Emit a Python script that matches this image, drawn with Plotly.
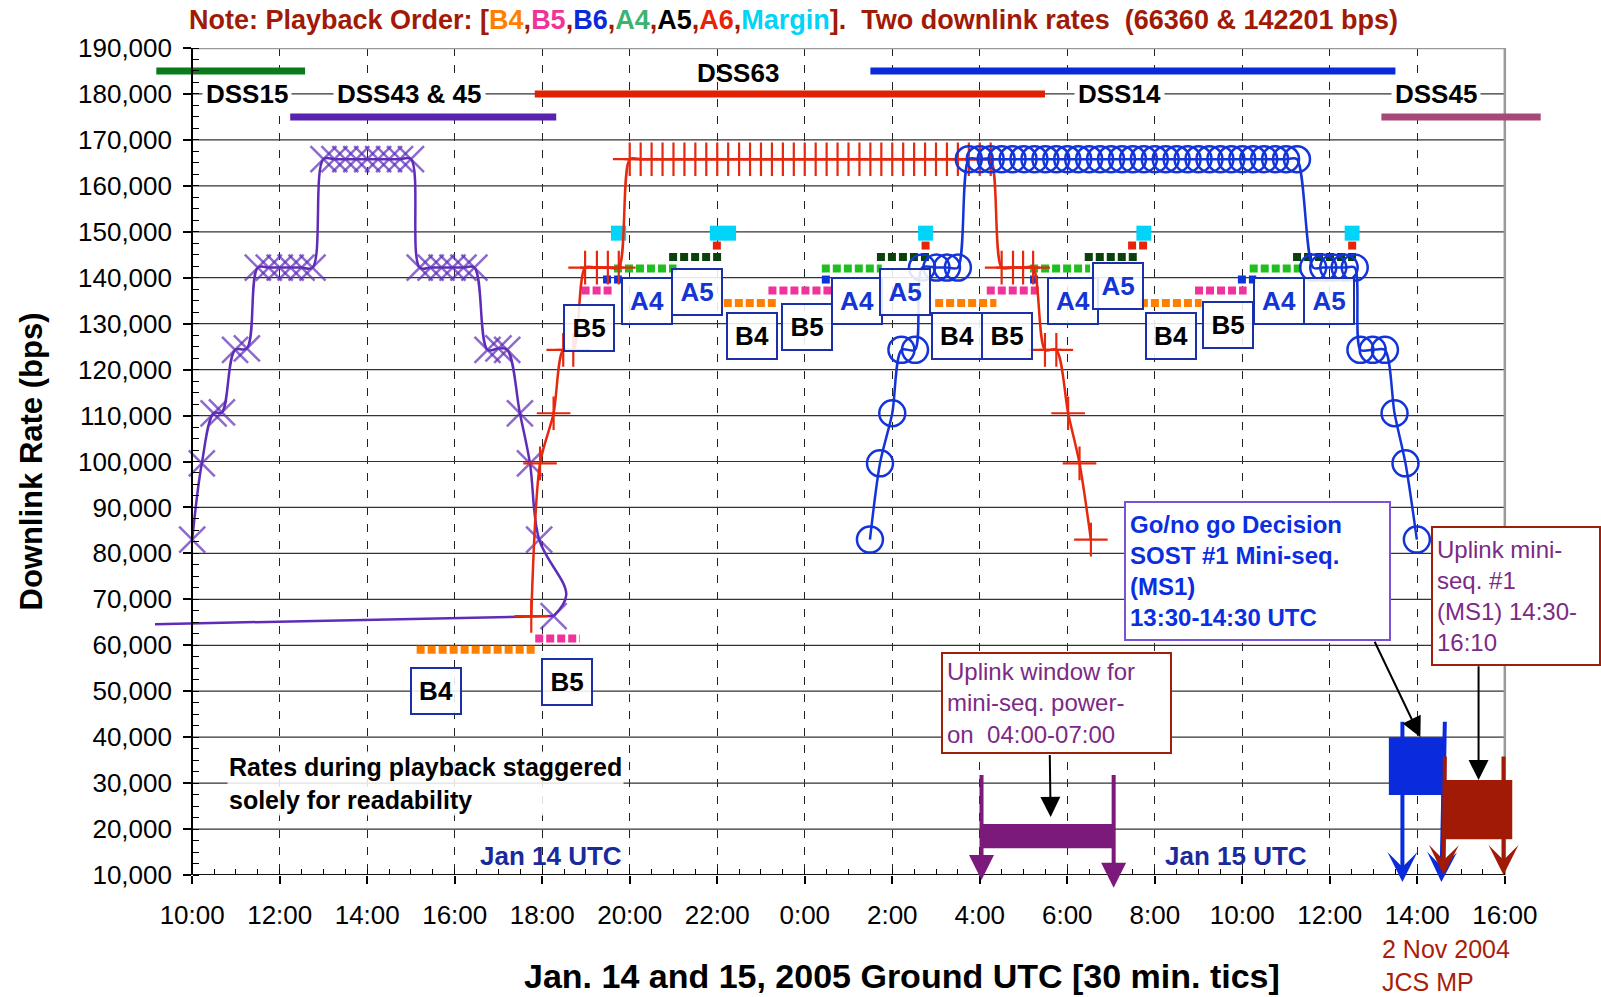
import plotly.graph_objects as go

# ---------------- axes ----------------
X_RANGE = [-0.85, 30.85]          # hours after 10:00 UTC Jan 14
Y_RANGE = [10000, 190000]
tick_hours = [0, 2, 4, 6, 8, 10, 12, 14, 16, 18, 20, 22, 24, 26, 28, 30]
tick_labels = ["10:00", "12:00", "14:00", "16:00", "18:00", "20:00", "22:00", "0:00",
               "2:00", "4:00", "6:00", "8:00", "10:00", "12:00", "14:00", "16:00"]
minor_tick_hours = [i * 0.5 for i in range(61)]
rate_ticks = list(range(10000, 190001, 10000))
grid_rates = rate_ticks[1:-1]

# ---------------- downlink rate series ----------------
dss43_hours = [0.0, 0.22, 0.49, 0.68, 0.98, 1.25, 1.5, 1.75, 2.0, 2.25, 2.5, 2.75,
               3.0, 3.25, 3.5, 3.75, 4.0, 4.25, 4.5, 4.75, 5.0,
               5.2, 5.45, 5.7, 5.95, 6.2, 6.45, 6.75, 7.0, 7.2, 7.49, 7.72, 7.93, 8.55, 8.26]
dss43_rates = [83000, 99600, 110500, 110700, 124300, 124600,
               142201, 142201, 142201, 142201, 142201, 142201,
               165800, 165800, 165800, 165800, 165800, 165800, 165800, 165800, 165800,
               142201, 142201, 142201, 142201, 142201, 142201,
               124300, 124600, 124300, 110500, 99600, 83000, 71000, 66360]
dss43_marker_shown = [1] * 33 + [0, 1]
# return line of the DSS43/45 series back to the start of the chart
dss43_tail_hours = [8.26, -0.85]
dss43_tail_rates = [66360, 64600]

dss63_hours = [7.75, 7.95, 8.26, 8.48, 8.71, 8.98, 9.25, 9.5, 9.75,
               10.0, 10.25, 10.5, 10.75, 11.0, 11.25, 11.5, 11.75, 12.0, 12.25, 12.5, 12.75,
               13.0, 13.25, 13.5, 13.75, 14.0, 14.25, 14.5, 14.75, 15.0, 15.25, 15.5, 15.75,
               16.0, 16.25, 16.5, 16.75, 17.0, 17.25, 17.5, 17.75, 18.0, 18.25,
               18.5, 18.76, 18.99, 19.22, 19.49, 19.75, 20.02, 20.28, 20.54]
dss63_rates = [66360, 99600, 110500, 124300, 124300, 142201, 142201, 142201, 142201,
               165800, 165800, 165800, 165800, 165800, 165800, 165800, 165800, 165800, 165800, 165800, 165800,
               165800, 165800, 165800, 165800, 165800, 165800, 165800, 165800, 165800, 165800, 165800, 165800,
               165800, 165800, 165800, 165800, 165800, 165800, 165800, 165800, 165800, 165800,
               142201, 142201, 142201, 142201, 124300, 124300, 110500, 99600, 83000]

dss14_hours = [15.49, 15.72, 16.0, 16.21, 16.52, 16.68, 17.01, 17.25, 17.5,
               17.75, 18.0, 18.25, 18.5, 18.75, 19.0, 19.25, 19.5, 19.75, 20.0, 20.25,
               20.5, 20.75, 21.0, 21.25, 21.5, 21.75, 22.0, 22.25, 22.5, 22.75, 23.0,
               23.25, 23.5, 23.75, 24.0, 24.25, 24.5, 24.75, 25.0, 25.25,
               25.62, 25.85, 26.08, 26.34, 26.57, 26.7, 26.98, 27.26, 27.48, 27.73, 27.99]
dss14_rates = [83000, 99600, 110500, 124300, 124300, 142201, 142201, 142201, 142201,
               165800, 165800, 165800, 165800, 165800, 165800, 165800, 165800, 165800, 165800, 165800,
               165800, 165800, 165800, 165800, 165800, 165800, 165800, 165800, 165800, 165800, 165800,
               165800, 165800, 165800, 165800, 165800, 165800, 165800, 165800, 165800,
               142201, 142201, 142201, 142201, 142201, 124300, 124300, 124300, 110500, 99600, 83000]

# ---------------- playback order rows (start hour, end hour, staggered rate) ----------------
b4_start = [5.13, 12.15, 16.98, 21.66]
b4_end = [7.86, 13.36, 18.38, 23.07]
b4_rate = [59000, 134500, 134500, 134500]

b5_start = [7.84, 8.90, 13.17, 18.16, 22.92]
b5_end = [8.86, 9.59, 14.61, 19.37, 24.10]
b5_rate = [61500, 137200, 137200, 137200, 137200]

b6_start = [9.39, 14.39, 19.15, 23.90]
b6_end = [9.82, 14.60, 19.35, 24.32]
b6_rate = [139600, 139600, 139600, 139600]

a4_start = [9.64, 14.39, 19.15, 24.17]
a4_end = [11.07, 15.76, 20.52, 25.35]
a4_rate = [142000, 142000, 142000, 142000]

a5_start = [10.90, 15.65, 20.40, 25.16]
a5_end = [12.10, 16.86, 21.62, 26.61]
a5_rate = [144500, 144500, 144500, 144500]

a6_start = [11.90, 16.67, 21.39, 26.42]
a6_end = [12.10, 16.86, 21.85, 26.61]
a6_rate = [147000, 147000, 147000, 147000]

margin_start = [9.57, 11.83, 16.59, 21.58, 26.34]
margin_end = [9.92, 12.43, 16.93, 21.92, 26.68]
margin_rate = [149700, 149700, 149700, 149700, 149700]

# product boxes
box_text = ["B4", "B5", "B5", "A4", "A5", "B4", "B5", "A4", "A5", "B4", "B5", "A4", "A5",
            "B4", "B5", "A4", "A5"]
box_hours = [5.58, 8.57, 9.06, 10.39, 11.53, 12.79, 14.04, 15.20, 16.30, 17.49, 18.62,
             20.14, 21.17, 22.37, 23.67, 24.83, 25.99]
box_rates = [50100, 51900, 129160, 134970, 136900, 127270, 129200, 134970, 136900, 127270,
             127380, 134970, 138300, 127300, 129800, 134970, 134970]

# ---------------- station passes ----------------
station_names = ["DSS15", "DSS43 & 45", "DSS63", "DSS14", "DSS45"]
station_start = [-0.82, 2.24, 7.83, 15.50, 27.18]
station_end = [2.58, 8.32, 19.49, 27.50, 30.82]
station_level = [185000, 175000, 180000, 185000, 175000]
station_label_hours = [1.25, 4.97, 12.48, 21.20, 28.43]
station_label_rates = [180000, 180000, 184600, 180000, 180000]

# ---------------- windows ----------------
window_names = ["power-on uplink", "go/no go", "MS1 uplink"]
window_h0 = [18.04, 27.35, 28.55]
window_h1 = [21.06, 28.66, 30.17]
window_r0 = [15800, 27400, 17760]
window_r1 = [21100, 40000, 30660]

# arrows: tail hour, tail rate, tip hour, tip rate
arrow_tail_h = [18.04, 21.06, 27.66, 28.63, 28.63, 29.97, 27.01, 29.40, 19.60]
arrow_tail_r = [32100, 32100, 43700, 43700, 36100, 36100, 61100, 55770, 36430]
arrow_tip_h = [18.04, 21.06, 27.66, 28.55, 28.60, 29.97, 28.07, 29.40, 19.62]
arrow_tip_r = [8900, 7200, 8500, 8500, 10000, 10000, 40000, 30660, 22650]
arrow_kind = ["purple", "purple", "blue", "blue", "red", "red", "black", "black", "black"]

# ---------------- styling ----------------
FONT = "Liberation Sans, Arial, sans-serif"
PURPLE = "#5E2CB8"
RED = "#E6280E"
BLUE = "#1234D8"
PLUM = "#7C2A86"
arrow_colors = {"purple": "#7B1A7B", "blue": "#0A2BDB", "red": "#A01A05", "black": "#000000"}
arrow_heads = {"purple": (2, 4, 1.25), "blue": (3, 4, 1.25), "red": (3, 4, 1.25), "black": (2, 2, 2.0)}
station_colors = ["#0A7A1A", "#5A22B0", "#E02000", "#0A2ADA", "#A84878"]
station_label_bg = ["white", "white", "rgba(0,0,0,0)", "white", "white"]
window_colors = ["#7B1A7B", "#0A2BDB", "#A01A05"]

fig = go.Figure()

# playback rows
rows = [
    (b4_start, b4_end, b4_rate, "#FF7F00", 8, "8px,3px"),
    (b5_start, b5_end, b5_rate, "#F0339A", 8, "8px,3px"),
    (b6_start, b6_end, b6_rate, "#0A35DC", 8, "8px,3px"),
    (a4_start, a4_end, a4_rate, "#1FBF1F", 8, "8px,3px"),
    (a5_start, a5_end, a5_rate, "#0B420B", 8, "8px,3px"),
    (a6_start, a6_end, a6_rate, "#E8230A", 8, "8px,3px"),
    (margin_start, margin_end, margin_rate, "#00D4F8", 15, "solid"),
]
for s_list, e_list, r_list, col, w, dash in rows:
    xs, ys = [], []
    for s, e, r in zip(s_list, e_list, r_list):
        xs += [s, e, None]
        ys += [r, r, None]
    fig.add_trace(go.Scatter(x=xs, y=ys, mode="lines", line=dict(color=col, width=w, dash=dash),
                             hoverinfo="skip", showlegend=False))

# downlink series
fig.add_trace(go.Scatter(
    x=dss43_tail_hours, y=dss43_tail_rates, mode="lines",
    line=dict(color=PURPLE, width=2.5), showlegend=False))
fig.add_trace(go.Scatter(
    x=dss43_hours, y=dss43_rates, mode="lines+markers",
    line=dict(color=PURPLE, width=2.5, shape="spline", smoothing=1.0),
    marker=dict(symbol="x-thin", size=[26 * m for m in dss43_marker_shown],
                line=dict(color=PURPLE, width=2.5)),
    showlegend=False))
fig.add_trace(go.Scatter(
    x=dss63_hours, y=dss63_rates, mode="lines+markers",
    line=dict(color=RED, width=2.5, shape="spline", smoothing=0.8),
    marker=dict(symbol="cross-thin", size=24, line=dict(color=RED, width=2.2)),
    showlegend=False))
fig.add_trace(go.Scatter(
    x=dss14_hours, y=dss14_rates, mode="lines+markers",
    line=dict(color=BLUE, width=2.5, shape="spline", smoothing=0.8),
    marker=dict(symbol="circle-open", size=26, color=BLUE, line=dict(width=2.5)),
    showlegend=False))

shapes = []
# horizontal grid lines and frame (drawn only across 10:00 - 16:00)
for r in grid_rates:
    shapes.append(dict(type="line", xref="x", yref="y", x0=tick_hours[0], x1=tick_hours[-1],
                       y0=r, y1=r, line=dict(color="#333333", width=1.2), layer="between"))
shapes.append(dict(type="line", xref="x", yref="y", x0=tick_hours[0], x1=tick_hours[-1],
                   y0=Y_RANGE[1], y1=Y_RANGE[1], line=dict(color="#999999", width=2.5), layer="between"))
shapes.append(dict(type="line", xref="x", yref="y", x0=tick_hours[-1], x1=tick_hours[-1],
                   y0=Y_RANGE[0], y1=Y_RANGE[1], line=dict(color="#999999", width=2.5), layer="between"))
shapes.append(dict(type="line", xref="x", yref="y", x0=tick_hours[0], x1=tick_hours[-1],
                   y0=Y_RANGE[0], y1=Y_RANGE[0], line=dict(color="#111111", width=2), layer="above"))
# station bars
for s, e, lvl, col in zip(station_start, station_end, station_level, station_colors):
    shapes.append(dict(type="line", xref="x", yref="y", x0=s, x1=e, y0=lvl, y1=lvl,
                       line=dict(color=col, width=7), layer="between"))
# windows
for h0, h1, r0, r1, col in zip(window_h0, window_h1, window_r0, window_r1, window_colors):
    shapes.append(dict(type="rect", xref="x", yref="y", x0=h0, x1=h1, y0=r0, y1=r1,
                       fillcolor=col, line=dict(width=0), layer="between"))

annotations = []
# arrows
for th, tr, ph, pr, kind in zip(arrow_tail_h, arrow_tail_r, arrow_tip_h, arrow_tip_r, arrow_kind):
    head, aw, asz = arrow_heads[kind]
    annotations.append(dict(x=ph, y=pr, xref="x", yref="y", ax=th, ay=tr, axref="x", ayref="y",
                            text="", showarrow=True, arrowhead=head, arrowwidth=aw, arrowsize=asz,
                            arrowcolor=arrow_colors[kind]))

# product boxes
for t, h, r in zip(box_text, box_hours, box_rates):
    annotations.append(dict(x=h, y=r, xref="x", yref="y", text="<b>%s</b>" % t, showarrow=False,
                            width=46, height=42, borderpad=1, borderwidth=2, bordercolor="#1A30A8",
                            bgcolor="rgba(255,255,255,0.88)",
                            font=dict(family=FONT, size=26, color="#1434D4" if t.startswith("A") else "#000000")))

# station labels
for name, h, r, bg in zip(station_names, station_label_hours, station_label_rates, station_label_bg):
    annotations.append(dict(x=h, y=r, xref="x", yref="y", text="<b>%s</b>" % name, showarrow=False,
                            bgcolor=bg, borderpad=3,
                            font=dict(family=FONT, size=26, color="#000000")))

# text boxes
annotations.append(dict(x=24.34, y=76150, xref="x", yref="y", showarrow=False, align="left",
                        text="<b>Go/no go Decision<br>SOST #1 Mini-seq.<br>(MS1)<br>13:30-14:30 UTC</b>",
                        width=255, height=128, borderpad=4, borderwidth=2, bordercolor="#7B52D6",
                        bgcolor="white", font=dict(family=FONT, size=24, color="#0A2EE0")))
annotations.append(dict(x=30.25, y=70820, xref="x", yref="y", showarrow=False, align="left",
                        text="Uplink mini-<br>seq. #1<br>(MS1) 14:30-<br>16:10",
                        width=158, height=128, borderpad=4, borderwidth=2, bordercolor="#A01E0A",
                        bgcolor="white", font=dict(family=FONT, size=24, color=PLUM)))
annotations.append(dict(x=19.75, y=47420, xref="x", yref="y", showarrow=False, align="left",
                        text="Uplink window for<br>mini-seq. power-<br>on\u00a0 04:00-07:00",
                        width=219, height=90, borderpad=4, borderwidth=2, bordercolor="#A01E0A",
                        bgcolor="white", font=dict(family=FONT, size=24, color=PLUM)))
annotations.append(dict(x=0.79, y=30000, xref="x", yref="y", showarrow=False, align="left",
                        xanchor="left", bgcolor="rgba(255,255,255,0.85)",
                        text="<b>Rates during playback staggered<br>solely for readability</b>",
                        font=dict(family=FONT, size=25, color="#000000")))
annotations.append(dict(x=8.2, y=14200, xref="x", yref="y", showarrow=False,
                        text="<b>Jan 14 UTC</b>", font=dict(family=FONT, size=26, color="#1A2A9C")))
annotations.append(dict(x=23.86, y=14200, xref="x", yref="y", showarrow=False,
                        text="<b>Jan 15 UTC</b>", font=dict(family=FONT, size=26, color="#1A2A9C")))
annotations.append(dict(x=27.14, y=-0.1094, xref="x", yref="paper", showarrow=False, align="left",
                        xanchor="left", yanchor="middle", text="2 Nov 2004<br>JCS MP",
                        font=dict(family=FONT, size=25, color="#A81E0A")))
# axis titles
annotations.append(dict(x=16.22, y=-0.122, xref="x", yref="paper", showarrow=False,
                        xanchor="center", yanchor="middle",
                        text="<b>Jan. 14 and 15, 2005 Ground UTC [30 min. tics]</b>",
                        font=dict(family=FONT, size=34, color="#000000")))
annotations.append(dict(x=-0.0894, y=100000, xref="paper", yref="y", showarrow=False,
                        xanchor="center", yanchor="middle",
                        textangle=-90, text="<b>Downlink Rate (bps)</b>",
                        font=dict(family=FONT, size=31, color="#000000")))
# title
title_parts = [("Note: Playback Order: [", "#A01A05"), ("B4", "#FF7F00"), (",", "#A01A05"),
               ("B5", "#F0339A"), (",", "#A01A05"), ("B6", "#0A2ADA"), (",", "#A01A05"),
               ("A4", "#3CB371"), (",", "#A01A05"), ("A5", "#000000"), (",", "#A01A05"),
               ("A6", "#E8230A"), (",", "#A01A05"), ("Margin", "#00D4F8"),
               ("].\u00a0 Two downlink rates\u00a0 (66360 & 142201 bps)", "#A01A05")]
title_html = "<b>" + "".join('<span style="color:%s">%s</span>' % (c, t) for t, c in title_parts) + "</b>"
annotations.append(dict(x=13.75, y=1.0333, xref="x", yref="paper", showarrow=False,
                        xanchor="center", yanchor="middle",
                        text=title_html, font=dict(family=FONT, size=27, color="#A01A05")))

yaxis_pos = (0 - X_RANGE[0]) / (X_RANGE[1] - X_RANGE[0])

fig.update_layout(
    width=1601, height=997,
    margin=dict(l=155, r=59, t=48, b=122, pad=0, autoexpand=False),
    paper_bgcolor="white", plot_bgcolor="white",
    font=dict(family=FONT, color="#000000"),
    showlegend=False,
    shapes=shapes, annotations=annotations,
    xaxis=dict(range=X_RANGE, tickmode="array", tickvals=tick_hours, ticktext=tick_labels,
               ticks="outside", ticklen=8, tickwidth=1.5, tickcolor="#000",
               tickfont=dict(size=26, family=FONT, color="#000"), ticklabelstandoff=9,
               showline=False, zeroline=False, automargin=False,
               showgrid=True, gridcolor="#222222", gridwidth=1, griddash="8px,9px",
               minor=dict(tickmode="array", tickvals=minor_tick_hours, ticks="inside",
                          ticklen=6, tickwidth=1.2, tickcolor="#000", showgrid=False)),
    yaxis=dict(range=Y_RANGE, tickmode="array", tickvals=rate_ticks, tickformat=",d",
               anchor="free", position=yaxis_pos, automargin=False,
               ticks="outside", ticklen=8, tickwidth=1.5, tickcolor="#000",
               tickfont=dict(size=26, family=FONT, color="#000"), ticklabelstandoff=6,
               showline=True, linecolor="#000", linewidth=2,
               showgrid=False, zeroline=False,
               minor=dict(dtick=2500, ticks="inside", ticklen=6, tickwidth=1.2,
                          tickcolor="#000", showgrid=False)),
)

fig.write_html("out.html", config={"displayModeBar": False},
               post_script="document.body.style.margin='0px';document.body.style.overflow='hidden';")
